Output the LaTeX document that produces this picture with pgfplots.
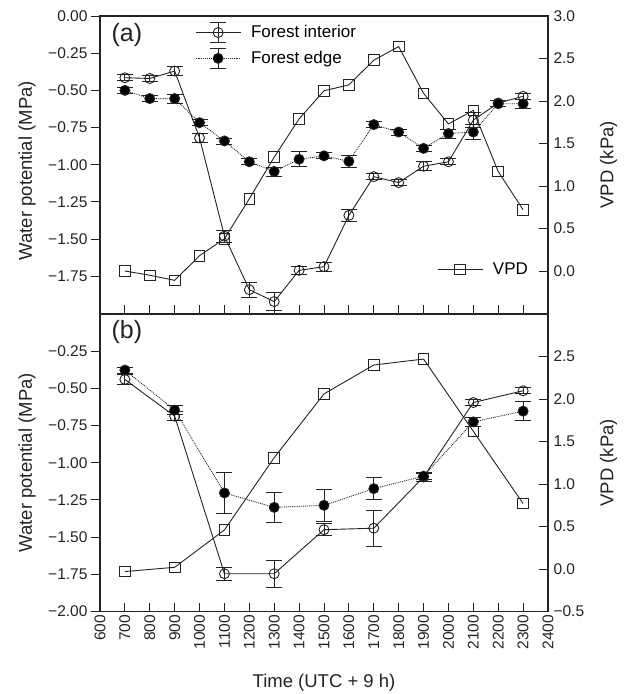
\documentclass[border=0pt]{standalone}
\usepackage{fontspec}
\setmainfont{Liberation Sans}
\usepackage{pgfplots}
\usepackage{pgfplotstable}
\pgfplotsset{compat=1.18}
\definecolor{ink}{RGB}{35,35,35}

\pgfplotstableread{
t v e
700 -0.415 0.02
800 -0.42 0.02
900 -0.37 0.03
1000 -0.82 0.03
1100 -1.48 0.04
1200 -1.84 0.05
1300 -1.92 0.06
1400 -1.71 0.03
1500 -1.685 0.03
1600 -1.34 0.04
1700 -1.08 0.02
1800 -1.12 0.02
1900 -1.01 0.03
2000 -0.98 0.02
2100 -0.70 0.05
2200 -0.585 0.02
2300 -0.54 0.02
}\topint
\pgfplotstableread{
t v e
700 -0.50 0.02
800 -0.555 0.02
900 -0.555 0.03
1000 -0.717 0.02
1100 -0.84 0.02
1200 -0.98 0.02
1300 -1.045 0.03
1400 -0.963 0.05
1500 -0.94 0.02
1600 -0.977 0.04
1700 -0.73 0.02
1800 -0.78 0.02
1900 -0.89 0.02
2000 -0.79 0.03
2100 -0.78 0.05
2200 -0.59 0.02
2300 -0.59 0.03
}\topedge
\pgfplotstableread{
t v
700 0.0
800 -0.05
900 -0.11
1000 0.18
1100 0.38
1200 0.85
1300 1.34
1400 1.79
1500 2.12
1600 2.19
1700 2.48
1800 2.64
1900 2.09
2000 1.73
2100 1.89
2200 1.17
2300 0.72
}\topvpd
\pgfplotstableread{
t v e
700 -0.44 0.035
900 -0.687 0.03
1100 -1.746 0.045
1300 -1.746 0.09
1500 -1.45 0.04
1700 -1.44 0.12
1900 -1.096 0.03
2100 -0.595 0.02
2300 -0.516 0.02
}\botint
\pgfplotstableread{
t v e
700 -0.377 0.02
900 -0.646 0.03
1100 -1.203 0.135
1300 -1.30 0.10
1500 -1.286 0.11
1700 -1.174 0.075
1900 -1.09 0.02
2100 -0.725 0.03
2300 -0.653 0.065
}\botedge
\pgfplotstableread{
t v
700 -0.03
900 0.02
1100 0.46
1300 1.31
1500 2.06
1700 2.40
1900 2.47
2100 1.62
2300 0.77
}\botvpd

\pgfplotsset{
  base/.style={
    scale only axis, width=448pt, height=297.5pt,
    xmin=600, xmax=2400,
    axis line style={ink, line width=1.2pt},
    every tick/.style={ink, line width=1pt},
    major tick length=9pt,
    tick label style={font=\fontsize{15.5}{18}\selectfont, text=ink},
    label style={font=\fontsize{18.5}{22}\selectfont, text=ink},
  },
  intp/.style={ink, line width=0.9pt, mark=o, mark size=5pt,
    mark options={solid, fill=white},
    error bars/.cd, y dir=both, y explicit,
    error bar style={solid, line width=0.8pt},
    error mark options={rotate=90, mark size=8pt, line width=0.8pt}},
  edgep/.style={ink, line width=0.9pt, densely dotted, mark=*, mark size=5pt,
    mark options={solid, fill=black},
    error bars/.cd, y dir=both, y explicit,
    error bar style={solid, line width=0.8pt},
    error mark options={rotate=90, mark size=8pt, line width=0.8pt}},
  vpdp/.style={ink, line width=0.9pt, mark=square, mark size=5.3pt,
    mark options={solid, fill=white}},
}

\begin{document}
\begin{tikzpicture}
\useasboundingbox (0pt,0pt) rectangle (629pt,-694pt);

% ---------- top panel, left axis
\begin{axis}[base, at={(100pt,-16pt)}, anchor=north west,
  ymin=-2, ymax=0,
  ytick={-1.75,-1.5,-1.25,-1,-0.75,-0.5,-0.25,0},
  yticklabels={−1.75,−1.50,−1.25,−1.00,−0.75,−0.50,−0.25,0.00},
  xtick={600,700,...,2400}, xticklabels={},
  xtick pos=bottom, ytick pos=left,
  xtick align=inside, ytick align=outside,
  ylabel={Water potential (MPa)},
  ylabel style={at={(axis description cs:-0.163,0.48)}, anchor=center},
  legend style={draw=none, fill=none, at={(axis description cs:0.2120,0.98)},
    anchor=north west, inner sep=0pt,
    font=\fontsize{17}{20}\selectfont, row sep=5pt,
    /tikz/every odd column/.append style={column sep=8pt}},
  legend cell align=left,
  legend image code/.code={
    \draw[ink, solid, line width=0.8pt] (22.5pt,-10pt) -- (22.5pt,10pt)
      (14.5pt,-10pt) -- (30.5pt,-10pt) (14.5pt,10pt) -- (30.5pt,10pt);
    \draw[mark repeat=2, mark phase=2, #1] plot coordinates {(0pt,0pt) (22.5pt,0pt) (45pt,0pt)};
  },
]
\addplot[intp] table[x=t, y=v, y error=e] {\topint};
\addlegendentry{Forest interior}
\addplot[edgep] table[x=t, y=v, y error=e] {\topedge};
\addlegendentry{Forest edge}
\node[anchor=west, font=\fontsize{25}{29}\selectfont, text=ink] at (axis description cs:0.018,0.935) {(a)};
\end{axis}

% ---------- top panel, right axis
\begin{axis}[base, at={(100pt,-16pt)}, anchor=north west,
  axis y line*=right, axis x line=none,
  ymin=-0.5, ymax=3,
  ytick={0,0.5,1,1.5,2,2.5,3},
  yticklabels={0.0,0.5,1.0,1.5,2.0,2.5,3.0},
  ytick align=inside,
  yticklabel style={xshift=2pt},
  ylabel={VPD (kPa)},
  ylabel style={at={(axis description cs:1.135,0.5)}, anchor=center},
  legend style={draw=none, fill=none, at={(axis description cs:0.752,0.148)},
    anchor=west, inner sep=0pt, font=\fontsize{17}{20}\selectfont,
    /tikz/every odd column/.append style={column sep=8pt}},
  legend image code/.code={
    \draw[mark repeat=2, mark phase=2, #1] plot coordinates {(0pt,0pt) (22.5pt,0pt) (45pt,0pt)};
  },
]
\addplot[vpdp] table[x=t, y=v] {\topvpd};
\addlegendentry{VPD}
\end{axis}

% ---------- bottom panel, left axis
\begin{axis}[base, at={(100pt,-314pt)}, anchor=north west,
  ymin=-2, ymax=0,
  ytick={-2,-1.75,-1.5,-1.25,-1,-0.75,-0.5,-0.25},
  yticklabels={−2.00,−1.75,−1.50,−1.25,−1.00,−0.75,−0.50,−0.25},
  xtick={600,700,...,2400},
  xticklabels={600,700,800,900,1000,1100,1200,1300,1400,1500,1600,1700,1800,1900,2000,2100,2200,2300,2400},
  xticklabel style={rotate=90, anchor=east},
  xtick pos=bottom, ytick pos=left,
  xtick align=inside, ytick align=outside,
  ylabel={Water potential (MPa)},
  ylabel style={at={(axis description cs:-0.163,0.5)}, anchor=center},
  xlabel={Time (UTC + 9 h)},
  xlabel style={at={(axis description cs:0.5,-0.239)}, anchor=center},
]
\addplot[intp] table[x=t, y=v, y error=e] {\botint};
\addplot[edgep] table[x=t, y=v, y error=e] {\botedge};
\node[anchor=west, font=\fontsize{25}{29}\selectfont, text=ink] at (axis description cs:0.018,0.94) {(b)};
\end{axis}

% ---------- bottom panel, right axis
\begin{axis}[base, at={(100pt,-314pt)}, anchor=north west,
  axis y line*=right, axis x line=none,
  ymin=-0.5, ymax=3,
  ytick={-0.5,0,0.5,1,1.5,2,2.5},
  yticklabels={−0.5,0.0,0.5,1.0,1.5,2.0,2.5},
  ytick align=inside,
  yticklabel style={xshift=2pt},
  ylabel={VPD (kPa)},
  ylabel style={at={(axis description cs:1.135,0.5)}, anchor=center},
]
\addplot[vpdp] table[x=t, y=v] {\botvpd};
\end{axis}
\end{tikzpicture}
\end{document}
